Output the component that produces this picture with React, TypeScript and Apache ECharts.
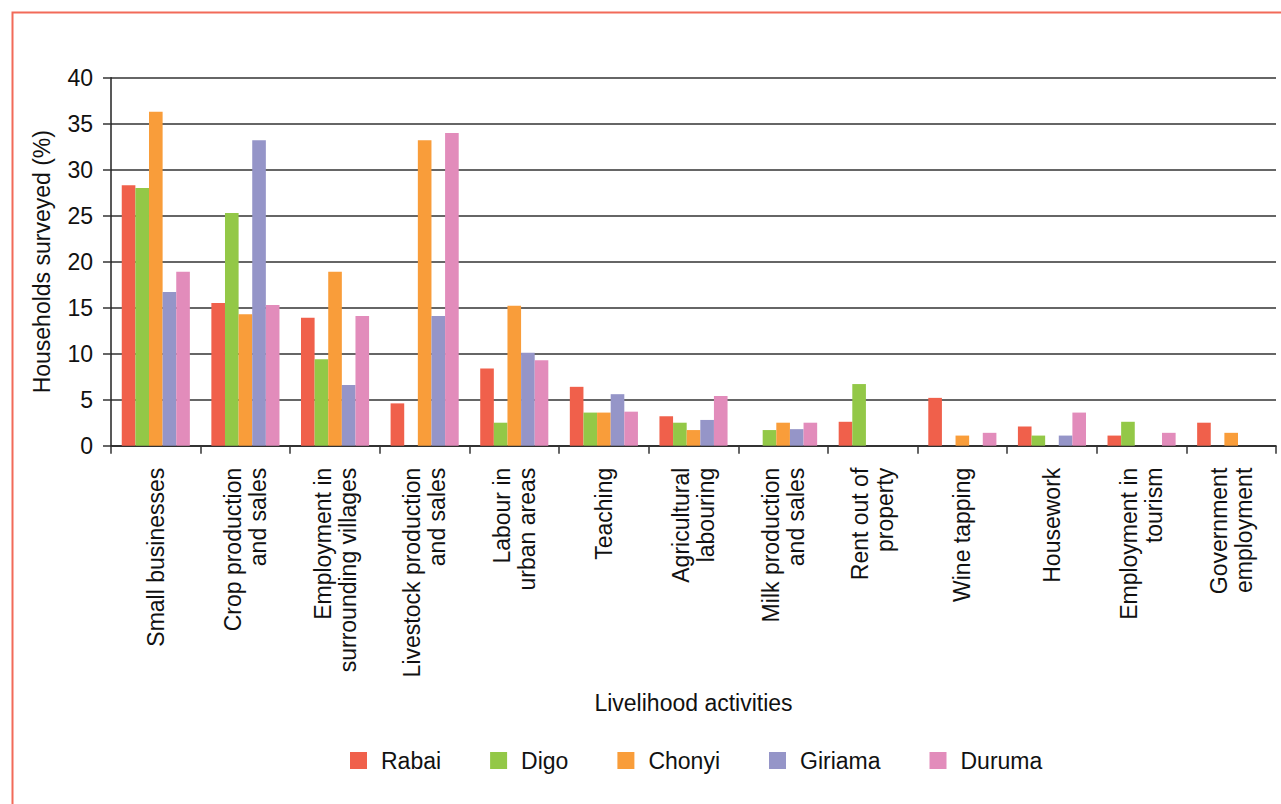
import React, { useEffect, useRef } from "react";
import * as echarts from "echarts";

const categories = [
  "Small businesses",
  "Crop production\nand sales",
  "Employment in\nsurrounding villages",
  "Livestock production\nand sales",
  "Labour in\nurban areas",
  "Teaching",
  "Agricultural\nlabouring",
  "Milk production\nand sales",
  "Rent out of\nproperty",
  "Wine tapping",
  "Housework",
  "Employment in\ntourism",
  "Government\nemployment",
];

const seriesNames = ["Rabai", "Digo", "Chonyi", "Giriama", "Duruma"];
const rabai = [28.3, 15.5, 13.9, 4.6, 8.4, 6.4, 3.2, 0, 2.6, 5.2, 2.1, 1.1, 2.5];
const digo = [28.0, 25.3, 9.4, 0, 2.5, 3.6, 2.5, 1.7, 6.7, 0, 1.1, 2.6, 0];
const chonyi = [36.3, 14.3, 18.9, 33.2, 15.2, 3.6, 1.7, 2.5, 0, 1.1, 0, 0, 1.4];
const giriama = [16.7, 33.2, 6.6, 14.1, 10.1, 5.6, 2.8, 1.8, 0, 0, 1.1, 0, 0];
const duruma = [18.9, 15.3, 14.1, 34.0, 9.3, 3.7, 5.4, 2.5, 0, 1.4, 3.6, 1.4, 0];
const seriesData = [rabai, digo, chonyi, giriama, duruma];
const colors = ["#f0604b", "#93c847", "#f99d3a", "#9595c8", "#e28cbb"];

const yTicks = { min: 0, max: 40, interval: 5 };
const FONT = "Liberation Sans, Arial, Helvetica, sans-serif";

export default function App() {
  const ref = useRef<HTMLDivElement>(null);
  useEffect(() => {
    if (!ref.current) return;
    const chart = echarts.init(ref.current, undefined, { renderer: "svg" });
    chart.setOption({
      animation: false,
      backgroundColor: "#ffffff",
      textStyle: { fontFamily: FONT },
      graphic: [
        {
          type: "rect",
          left: 10,
          top: 10,
          shape: { x: 0, y: 0, width: 1320, height: 840 },
          style: { fill: "none", stroke: "#f26a59", lineWidth: 2 },
          silent: true,
        },
      ],
      grid: { left: 111, right: 5, top: 77.7, bottom: 358.3, containLabel: false },
      legend: {
        data: seriesNames,
        top: 744,
        left: 345,
        itemWidth: 17,
        itemHeight: 17,
        itemGap: 49,
        icon: "rect",
        textStyle: {
          fontFamily: FONT,
          fontSize: 23,
          color: "#111",
          padding: [0, 0, 0, 9],
        },
      },
      xAxis: {
        type: "category",
        data: categories,
        name: "Livelihood activities",
        nameLocation: "middle",
        nameGap: 246,
        nameTextStyle: { fontFamily: FONT, fontSize: 23, color: "#111" },
        axisLine: { lineStyle: { color: "#222", width: 1.5 } },
        axisTick: { show: true, length: 8, lineStyle: { color: "#333", width: 1.5 } },
        axisLabel: {
          rotate: 90,
          interval: 0,
          margin: 22,
          fontFamily: FONT,
          fontSize: 23,
          lineHeight: 25,
          color: "#111",
        },
      },
      yAxis: {
        type: "value",
        min: yTicks.min,
        max: yTicks.max,
        interval: yTicks.interval,
        name: "Households surveyed (%)",
        nameLocation: "middle",
        nameGap: 58,
        nameTextStyle: { fontFamily: FONT, fontSize: 23, color: "#111" },
        axisLine: { show: true, lineStyle: { color: "#222", width: 1.5 } },
        axisTick: { show: true, inside: false, length: 8, lineStyle: { color: "#333", width: 1.5 } },
        axisLabel: { margin: 18, fontFamily: FONT, fontSize: 23, color: "#111" },
        splitLine: { show: true, lineStyle: { color: "#333", width: 1.5 } },
      },
      series: seriesNames.map((name, i) => ({
        name,
        type: "bar",
        data: seriesData[i],
        barGap: "0%",
        barCategoryGap: "24%",
        itemStyle: { color: colors[i] },
      })),
    });
    return () => chart.dispose();
  }, []);
  return (
    <div
      ref={ref}
      style={{ position: "absolute", left: 0, top: 0, width: 1281, height: 804 }}
    />
  );
}
